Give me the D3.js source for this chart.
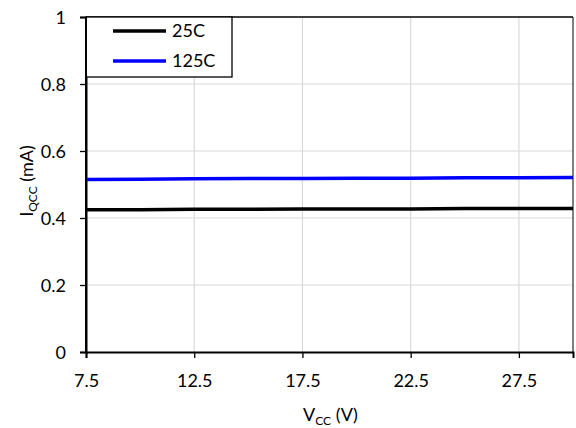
<!DOCTYPE html>
<html>
<head>
<meta charset="utf-8">
<script src="https://cdn.jsdelivr.net/npm/d3@7"></script>
<style>
  body { margin: 0; background: #fff; }
  text { font-family: Lato, "Open Sans", sans-serif; fill: #000; }
</style>
</head>
<body>
<div id="chart"></div>
<script>
// data
const vcc = [7.5, 10, 12.5, 15, 17.5, 20, 22.5, 25, 27.5, 30];
const iq25 = [0.425, 0.425, 0.426, 0.426, 0.427, 0.427, 0.427, 0.428, 0.428, 0.428];
const iq125 = [0.515, 0.516, 0.517, 0.518, 0.518, 0.519, 0.519, 0.520, 0.520, 0.521];
const xTicks = [7.5, 12.5, 17.5, 22.5, 27.5];
const yTicks = [0, 0.2, 0.4, 0.6, 0.8, 1];
const seriesNames = ["25C", "125C"];
const seriesColors = ["#000000", "#0000ff"];

const W = 576, H = 428;
const margin = { top: 17, right: 3, bottom: 76, left: 86 },
  width = W - margin.left - margin.right,
  height = H - margin.top - margin.bottom;

const svg = d3.select("#chart").append("svg")
  .attr("width", W).attr("height", H);
const g = svg.append("g")
  .attr("transform", `translate(${margin.left},${margin.top})`);

const x = d3.scaleLinear().domain([7.5, 30]).range([0, width]);
const y = d3.scaleLinear().domain([0, 1]).range([height, 0]);

// grid
g.selectAll(".vgrid").data(xTicks.slice(1)).join("line")
  .attr("x1", d => x(d)).attr("x2", d => x(d))
  .attr("y1", 0).attr("y2", height)
  .attr("stroke", "#d9d9d9").attr("stroke-width", 1.2);
g.selectAll(".hgrid").data(yTicks.slice(1, -1)).join("line")
  .attr("x1", 0).attr("x2", width)
  .attr("y1", d => y(d)).attr("y2", d => y(d))
  .attr("stroke", "#d9d9d9").attr("stroke-width", 1.2);

// frame top/right
g.append("line").attr("x1", 0).attr("x2", width).attr("y1", 0).attr("y2", 0)
  .attr("stroke", "#000").attr("stroke-width", 1.3);
g.append("line").attr("x1", width).attr("x2", width).attr("y1", 0).attr("y2", height)
  .attr("stroke", "#000").attr("stroke-width", 1);

// axes
const xAxis = g.append("g")
  .attr("transform", `translate(0,${height})`)
  .call(d3.axisBottom(x).tickValues(xTicks).tickSize(6).tickPadding(16).tickFormat(d3.format(".1f")));
const yAxis = g.append("g")
  .call(d3.axisLeft(y).tickValues(yTicks).tickSize(6).tickPadding(14).tickFormat(d => d));
[xAxis, yAxis].forEach(a => {
  a.select(".domain").attr("stroke", "#000").attr("stroke-width", 2);
  a.selectAll(".tick line").attr("stroke", "#000").attr("stroke-width", 1.3);
  a.selectAll("text").style("font-size", "18px");
});
yAxis.selectAll(".tick text").attr("dy", "0.35em");

// lines
const line = d3.line().x((d, i) => x(vcc[i])).y(d => y(d));
[iq25, iq125].forEach((s, k) => {
  g.append("path").datum(s)
    .attr("fill", "none")
    .attr("stroke", seriesColors[k])
    .attr("stroke-width", 3.5)
    .attr("d", line);
});

// legend
const lg = g.append("g");
lg.append("rect").attr("x", 0).attr("y", 0).attr("width", 146).attr("height", 60)
  .attr("fill", "#fff").attr("stroke", "#000").attr("stroke-width", 1.3);
seriesNames.forEach((n, k) => {
  const ly = 14 + k * 30;
  lg.append("line").attr("x1", 27).attr("x2", 80).attr("y1", ly).attr("y2", ly)
    .attr("stroke", seriesColors[k]).attr("stroke-width", 3.5);
  lg.append("text").attr("x", 86).attr("y", ly).attr("dy", "0.35em")
    .style("font-size", "18px").text(n);
});
// left axis drawn over legend edge
g.append("line").attr("x1", 0).attr("x2", 0).attr("y1", 0).attr("y2", height)
  .attr("stroke", "#000").attr("stroke-width", 2);

// axis titles
const xt = svg.append("text")
  .attr("x", margin.left + x(17.5) + 28).attr("y", 421)
  .attr("text-anchor", "middle").style("font-size", "18px");
xt.append("tspan").text("V");
xt.append("tspan").attr("dy", 4).style("font-size", "12px").text("CC");
xt.append("tspan").attr("dy", -4).text(" (V)");

const yt = svg.append("text")
  .attr("transform", `translate(33,181) rotate(-90)`)
  .attr("text-anchor", "middle").style("font-size", "18px");
yt.append("tspan").text("I");
yt.append("tspan").attr("dy", 4).style("font-size", "12px").text("QCC");
yt.append("tspan").attr("dy", -4).text(" (mA)");
</script>
</body>
</html>
